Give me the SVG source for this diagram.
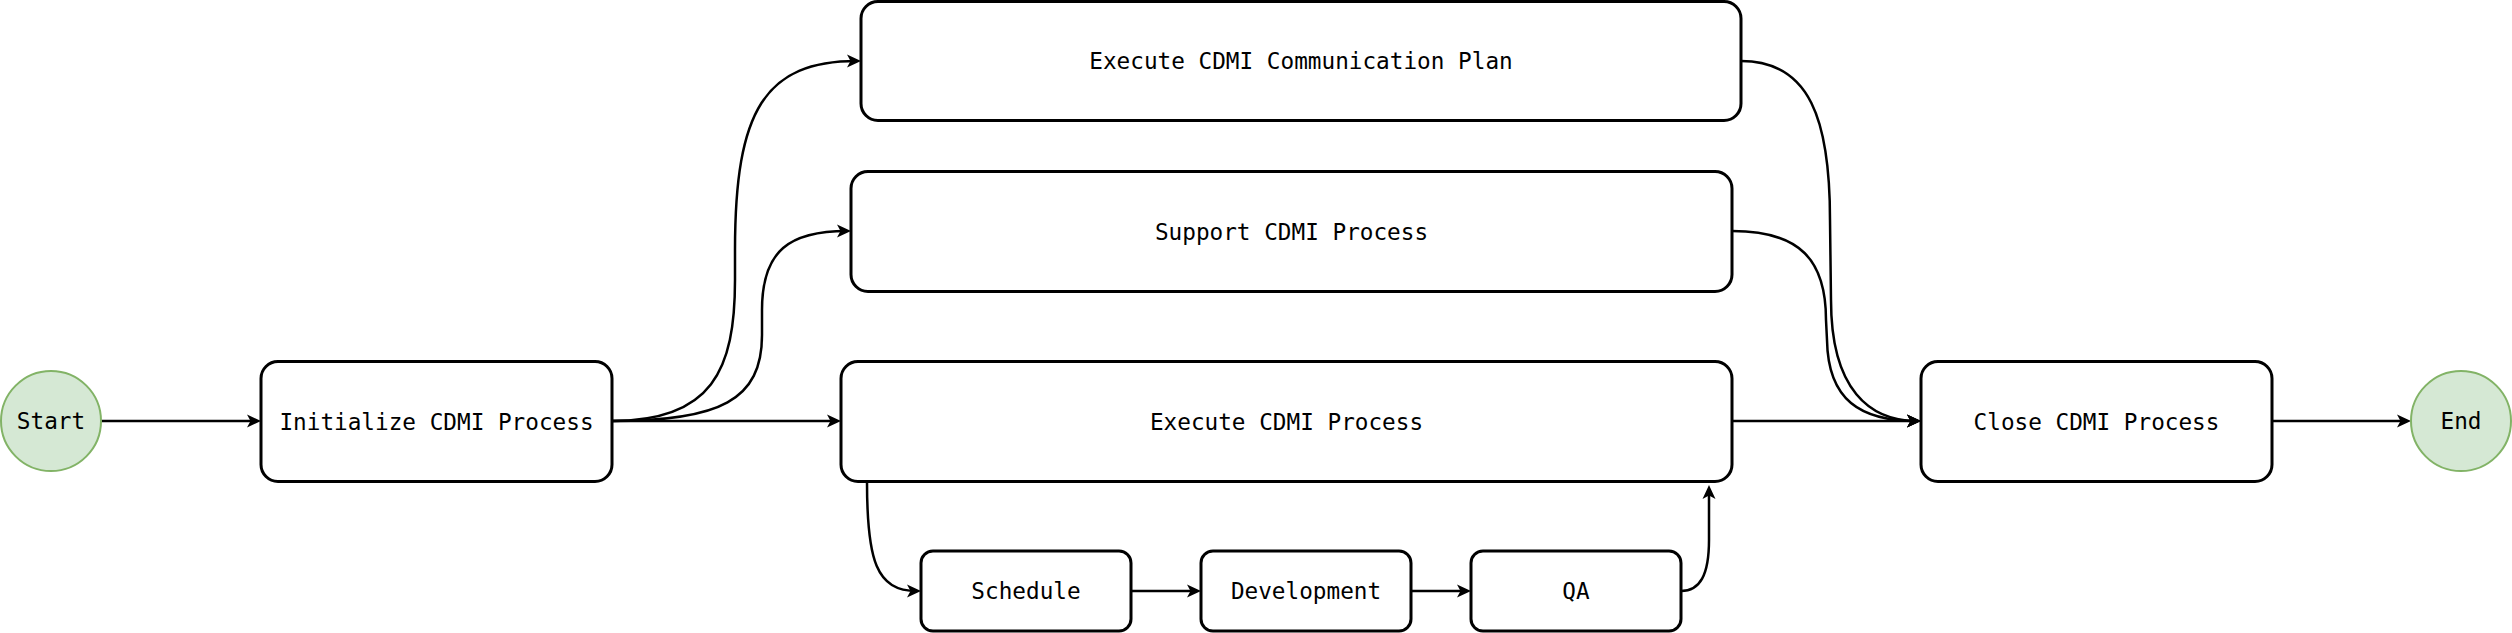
<svg xmlns="http://www.w3.org/2000/svg" width="2512" height="633" viewBox="0 0 2512 633">
<defs>
<style>
.box{fill:#ffffff;stroke:#000000;stroke-width:3}
.term{fill:#d5e8d4;stroke:#82b366;stroke-width:2}
.lbl{font-family:"DejaVu Sans Mono","Liberation Mono",monospace;font-size:22.7px;fill:#000000;text-anchor:middle;dominant-baseline:central}
.edge{fill:none;stroke:#000000;stroke-width:2.5;marker-end:url(#arr)}
</style>
<marker id="arr" markerUnits="userSpaceOnUse" viewBox="0 0 14 16" refX="10" refY="8" markerWidth="14" markerHeight="16" orient="auto">
<path d="M0,1.5 L14,8 L0,14.5 L3.5,8 Z" fill="#000000"/>
</marker>
</defs>
<rect width="2512" height="633" fill="#ffffff"/>
<g id="connectors">
<path class="edge" d="M101,421 L257,421"/>
<path class="edge" d="M612,421 C712,421 735,370 735,280 L735,250 C735,110 765,61 857,61"/>
<path class="edge" d="M612,421 C720,421 762,400 762,335 L762,310 C762,250 790,231 847,231"/>
<path class="edge" d="M612,421 L837,421"/>
<path class="edge" d="M1741,61 C1810,61 1830,120 1830,220 L1831,300 C1831,390 1870,421 1917,421"/>
<path class="edge" d="M1732,231 C1800,231 1826,260 1826,320 L1827,340 C1828,400 1860,421 1917,421"/>
<path class="edge" d="M1732,421 L1917,421"/>
<path class="edge" d="M867,482 C867,560 876,591 917,591"/>
<path class="edge" d="M1131,591 L1197,591"/>
<path class="edge" d="M1411,591 L1467,591"/>
<path class="edge" d="M1681,591 C1700,591 1709,575 1709,540 L1709,489"/>
<path class="edge" d="M2272,421 L2407,421"/>
</g>
<g id="start"><circle class="term" cx="51" cy="421" r="50"/><text class="lbl" x="51" y="421">Start</text></g>
<g id="init"><rect class="box" x="261" y="361.5" width="351" height="120" rx="17" ry="17"/><text class="lbl" x="436.5" y="421.5">Initialize CDMI Process</text></g>
<g id="commplan"><rect class="box" x="861" y="1.5" width="880" height="119" rx="17" ry="17"/><text class="lbl" x="1301" y="61">Execute CDMI Communication Plan</text></g>
<g id="support"><rect class="box" x="851" y="171.5" width="881" height="120" rx="17" ry="17"/><text class="lbl" x="1291.5" y="231.5">Support CDMI Process</text></g>
<g id="execute"><rect class="box" x="841" y="361.5" width="891" height="120" rx="17" ry="17"/><text class="lbl" x="1286.5" y="421.5">Execute CDMI Process</text></g>
<g id="schedule"><rect class="box" x="921" y="551" width="210" height="80" rx="12" ry="12"/><text class="lbl" x="1026" y="591">Schedule</text></g>
<g id="development"><rect class="box" x="1201" y="551" width="210" height="80" rx="12" ry="12"/><text class="lbl" x="1306" y="591">Development</text></g>
<g id="qa"><rect class="box" x="1471" y="551" width="210" height="80" rx="12" ry="12"/><text class="lbl" x="1576" y="591">QA</text></g>
<g id="close"><rect class="box" x="1921" y="361.5" width="351" height="120" rx="17" ry="17"/><text class="lbl" x="2096.5" y="421.5">Close CDMI Process</text></g>
<g id="end"><circle class="term" cx="2461" cy="421" r="50"/><text class="lbl" x="2461" y="421">End</text></g>
</svg>
